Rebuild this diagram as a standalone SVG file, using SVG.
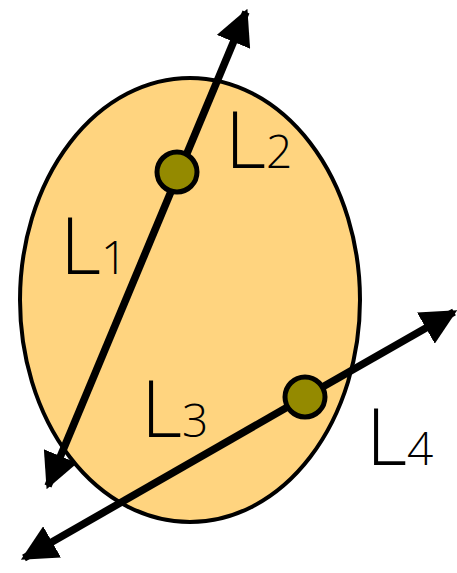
<svg xmlns="http://www.w3.org/2000/svg" width="457" height="573" viewBox="0 0 457 573">
<style>
.ln{stroke:#000;stroke-width:7.5;fill:none}
.dot{fill:#948a00;stroke:#000;stroke-width:5}
.lbl{font-family:"Open Sans","Liberation Sans",sans-serif;font-weight:300;font-size:80px;fill:#000}
.sub{font-size:46px}
</style>
<defs>
<marker id="ah" viewBox="0 0 10 10" refX="9" refY="5" markerWidth="4.8" markerHeight="4.8" markerUnits="strokeWidth" orient="auto">
<path d="M0,0 L10,5 L0,10 Z" fill="#000"/>
</marker>
</defs>
<g id="region">
<ellipse cx="190" cy="300" rx="170" ry="222" fill="#ffd47f" stroke="#000" stroke-width="4"/>
</g>
<g id="connectors">
<line class="ln" x1="180" y1="170" x2="246" y2="12" marker-end="url(#ah)"/>
<line class="ln" x1="180" y1="170" x2="48" y2="486" marker-end="url(#ah)"/>
<line class="ln" x1="305" y1="397" x2="454" y2="312" marker-end="url(#ah)"/>
<line class="ln" x1="305" y1="397" x2="24" y2="558" marker-end="url(#ah)"/>
</g>
<g id="p1"><circle class="dot" cx="177" cy="172" r="20"/></g>
<g id="p2"><circle class="dot" cx="305" cy="397" r="20"/></g>
<g id="L1"><text class="lbl" x="60" y="274">L<tspan class="sub">1</tspan></text></g>
<g id="L2"><text class="lbl" x="225" y="168">L<tspan class="sub">2</tspan></text></g>
<g id="L3"><text class="lbl" x="141" y="437">L<tspan class="sub">3</tspan></text></g>
<g id="L4"><text class="lbl" x="366" y="465">L<tspan class="sub">4</tspan></text></g>
</svg>
